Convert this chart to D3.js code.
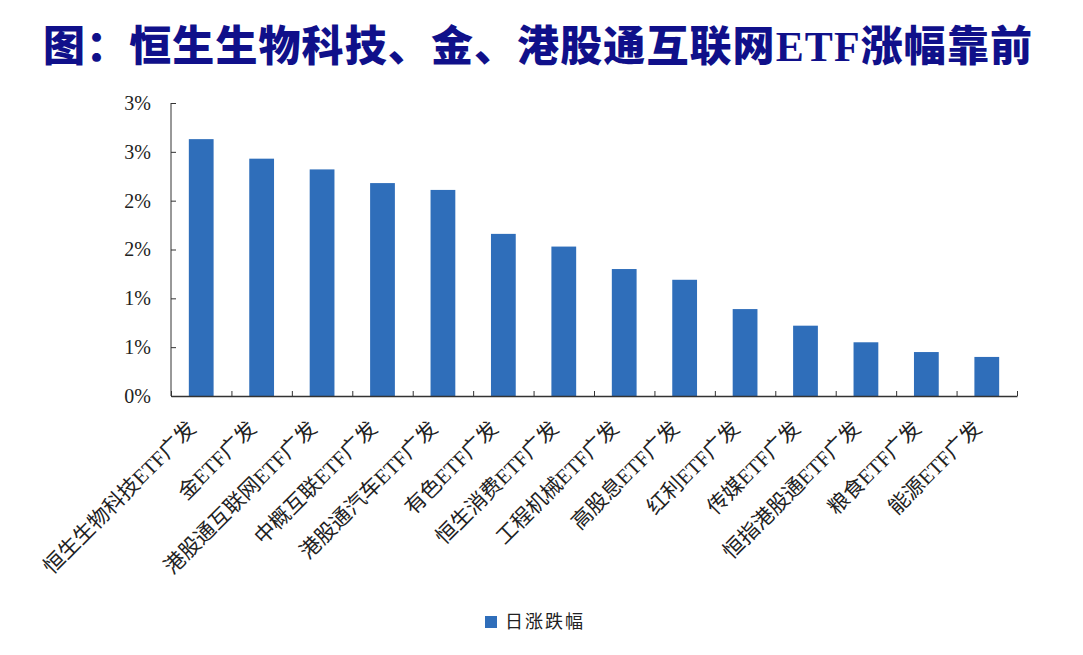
<!DOCTYPE html>
<html>
<head>
<meta charset="utf-8">
<script src="https://cdn.jsdelivr.net/npm/d3@7"></script>
<style>
  body { margin: 0; background: #fff; }
  svg { display: block; }
  .axis path, .axis line { stroke: #333; }
</style>
</head>
<body>
<div id="chart"></div>
<script>
// data
var categories = ["恒生生物科技ETF广发", "金ETF广发", "港股通互联网ETF广发", "中概互联ETF广发",
  "港股通汽车ETF广发", "有色ETF广发", "恒生消费ETF广发", "工程机械ETF广发", "高股息ETF广发",
  "红利ETF广发", "传媒ETF广发", "恒指港股通ETF广发", "粮食ETF广发", "能源ETF广发"];
var dailyChange = [0.0263, 0.0243, 0.0232, 0.0218, 0.0211, 0.0166, 0.0153, 0.0130, 0.0119,
  0.0089, 0.0072, 0.0055, 0.0045, 0.0040];
var yTicks = [0, 0.005, 0.01, 0.015, 0.02, 0.025, 0.03];
var yTickLabels = ["0%", "1%", "1%", "2%", "2%", "3%", "3%"];
var seriesName = "日涨跌幅";
var titleParts = ["图：恒生生物科技、金、港股通互联网", "ETF", "涨幅靠前"];

var W = 1083, H = 655;
var margin = { top: 103, right: 66, bottom: 259, left: 171 };
var plotW = W - margin.left - margin.right;
var plotH = H - margin.top - margin.bottom;

var svg = d3.select("#chart").append("svg")
  .attr("width", W)
  .attr("height", H);

// title
var title = svg.append("text")
  .attr("x", 43)
  .attr("y", 61)
  .attr("fill", "#10108a")
  .attr("font-size", 42)
  .attr("font-weight", 900)
  .attr("letter-spacing", 1.1)
  .attr("font-family", "'Noto Sans CJK SC', sans-serif");
title.append("tspan").text(titleParts[0]);
title.append("tspan").attr("font-family", "'Liberation Serif', serif").attr("font-weight", 700).text(titleParts[1]);
title.append("tspan").text(titleParts[2]);

var g = svg.append("g")
  .attr("transform", "translate(" + margin.left + "," + margin.top + ")");

var x = d3.scaleBand()
  .domain(categories)
  .range([0, plotW])
  .paddingInner(0.59)
  .paddingOuter(0.295);

var slots = d3.scaleLinear().domain([0, categories.length]).range([0, plotW]);

var y = d3.scaleLinear().domain([0, 0.03]).range([plotH, 0]);

// bars
g.selectAll("rect.bar")
  .data(dailyChange)
  .enter().append("rect")
  .attr("class", "bar")
  .attr("x", (d, i) => x(categories[i]))
  .attr("y", d => y(d))
  .attr("width", x.bandwidth())
  .attr("height", d => plotH - y(d))
  .attr("fill", "#2f6eba");

// y axis, ticks inward
var yAxis = g.append("g")
  .attr("class", "axis")
  .call(d3.axisLeft(y)
    .tickValues(yTicks)
    .tickFormat((d, i) => yTickLabels[i])
    .tickSize(-5)
    .tickPadding(20));
yAxis.select(".domain").attr("d", "M0," + y(0.03) + "V" + plotH);
yAxis.selectAll("text")
  .attr("font-family", "'Liberation Serif', serif")
  .attr("font-size", 20)
  .attr("fill", "#222");

// x axis baseline with slot ticks pointing up
var xAxis = g.append("g")
  .attr("class", "axis")
  .attr("transform", "translate(0," + plotH + ")")
  .call(d3.axisBottom(slots)
    .tickValues(d3.range(categories.length + 1))
    .tickFormat("")
    .tickSize(-5)
    .tickSizeOuter(0));
xAxis.select(".domain").attr("stroke-width", 1.5);

// rotated category labels
g.append("g")
  .selectAll("text")
  .data(categories)
  .enter().append("text")
  .attr("transform", d => "translate(" + (x(d) + x.bandwidth() / 2 - 4) + "," + (plotH + 34) + ") rotate(-45)")
  .attr("text-anchor", "end")
  .attr("font-size", 21)
  .attr("fill", "#222")
  .attr("font-family", "'Liberation Serif', 'Noto Sans CJK SC', serif")
  .text(d => d);

// legend
var legend = svg.append("g").attr("transform", "translate(485,616)");
legend.append("rect")
  .attr("width", 12)
  .attr("height", 12)
  .attr("fill", "#2f6eba");
legend.append("text")
  .attr("x", 20)
  .attr("y", 12)
  .attr("font-size", 18)
  .attr("letter-spacing", 2)
  .attr("fill", "#222")
  .attr("font-family", "'Noto Sans CJK SC', sans-serif")
  .text(seriesName);
</script>
</body>
</html>
